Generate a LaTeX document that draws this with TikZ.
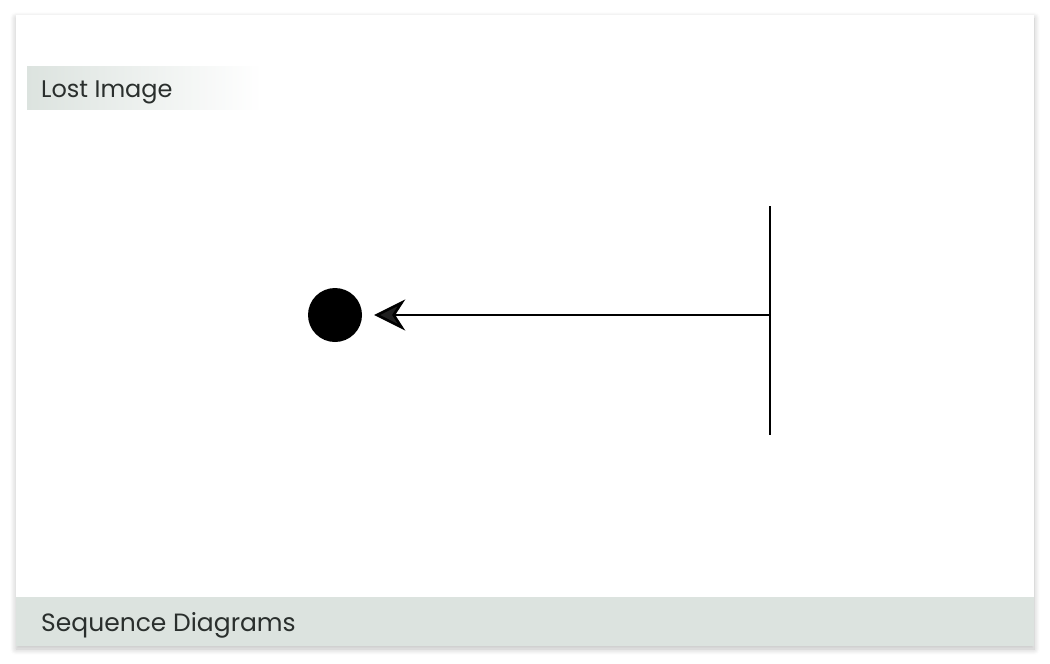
\documentclass[tikz,border=0pt]{standalone}
\usepackage{fontspec}
\setmainfont{Poppins}
\usetikzlibrary{arrows.meta,shadows.blur}
\definecolor{bandgray}{HTML}{DCE3DF}
\definecolor{textdark}{HTML}{2A2F2D}
\tikzset{
	label text/.style={anchor=base west, inner sep=0pt, text=textdark},
	msg/.style={line width=2.6pt, -{Stealth[length=31pt, width=31pt, inset=10pt]}},
}
\begin{document}
\begin{tikzpicture}[x=1pt, y=-1pt]
		\useasboundingbox (0, 0) rectangle (1050, 664);
		% card
		\fill[white, blur shadow={shadow xshift=0pt, shadow yshift=-3pt, shadow blur steps=8, shadow blur radius=6pt, shadow opacity=25}] (16, 15) rectangle (1034, 646);
		\fill[bandgray] (16, 597) rectangle (1034, 646);
		\shade[left color=bandgray, right color=white] (27, 66) rectangle (262, 109);
		\node[label text, font=\fontsize{24}{28}\selectfont] (title) at (41, 97) {Lost Image};
		\node[label text, font=\fontsize{25}{29}\selectfont] (caption) at (41, 631) {Sequence Diagrams};
		% lifeline and lost message
		\coordinate (top) at (770, 206);
		\coordinate (bottom) at (770, 435);
		\coordinate (start) at (770, 315);
		\draw[line width=2.6pt] (top) -- (bottom);
		\node[circle, fill=black, minimum size=54pt, inner sep=0pt] (lost) at (335, 315) {};
		\draw[msg] (start) -- ([xshift=12pt]lost.east);
	\end{tikzpicture}
\end{document}
